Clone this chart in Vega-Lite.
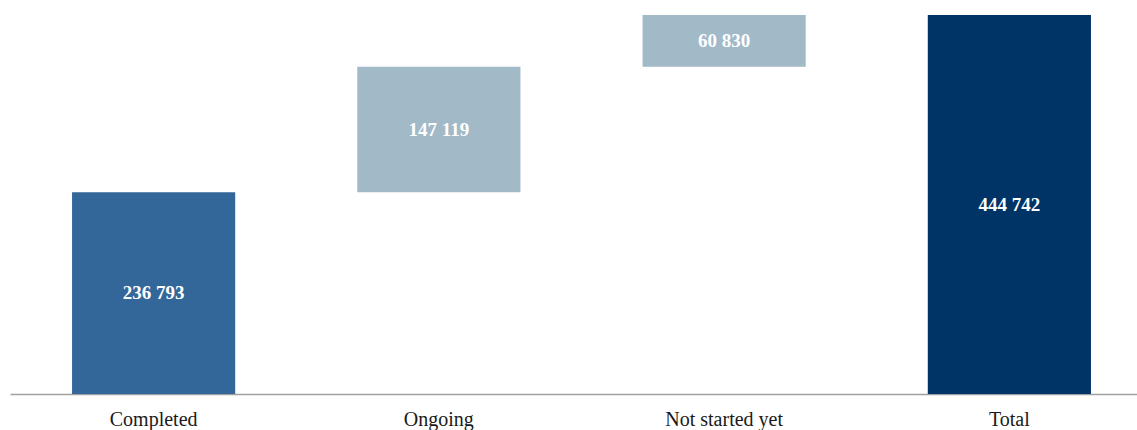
{
  "$schema": "https://vega.github.io/schema/vega-lite/v6.json",
  "width": 1143,
  "height": 394,
  "padding": {"left": 10, "top": 0, "right": 0, "bottom": 36},
  "autosize": {"type": "none"},
  "background": "white",
  "data": {
    "values": [
      {"category": "Completed", "start": 0, "end": 236793, "label": "236 793", "kind": "completed"},
      {"category": "Ongoing", "start": 236793, "end": 383912, "label": "147 119", "kind": "step"},
      {"category": "Not started yet", "start": 383912, "end": 444742, "label": "60 830", "kind": "step"},
      {"category": "Total", "start": 0, "end": 444742, "label": "444 742", "kind": "total"}
    ]
  },
  "transform": [{"calculate": "(datum.start + datum.end) / 2", "as": "mid"}],
  "encoding": {
    "x": {
      "field": "category",
      "type": "nominal",
      "sort": null,
      "scale": {"paddingInner": 0.428, "paddingOuter": 0.2175},
      "axis": {
        "title": null,
        "labelAngle": 0,
        "ticks": false,
        "labelFont": "Liberation Serif",
        "labelFontSize": 20,
        "labelColor": "#1a1a1a",
        "labelPadding": 15,
        "domainColor": "#a0a0a0",
        "domainWidth": 1.5,
        "grid": false
      }
    }
  },
  "layer": [
    {
      "mark": {"type": "bar"},
      "encoding": {
        "y": {"field": "start", "type": "quantitative", "scale": {"domain": [0, 462370], "nice": false}, "axis": null},
        "y2": {"field": "end"},
        "color": {
          "field": "kind",
          "type": "nominal",
          "scale": {"domain": ["completed", "step", "total"], "range": ["#336699", "#A2B9C8", "#003366"]},
          "legend": null
        }
      }
    },
    {
      "mark": {"type": "text", "font": "Liberation Serif", "fontSize": 19, "fontWeight": "bold", "color": "white", "baseline": "middle", "align": "center"},
      "encoding": {
        "y": {"field": "mid", "type": "quantitative"},
        "text": {"field": "label"}
      }
    }
  ],
  "config": {"view": {"stroke": null}}
}
